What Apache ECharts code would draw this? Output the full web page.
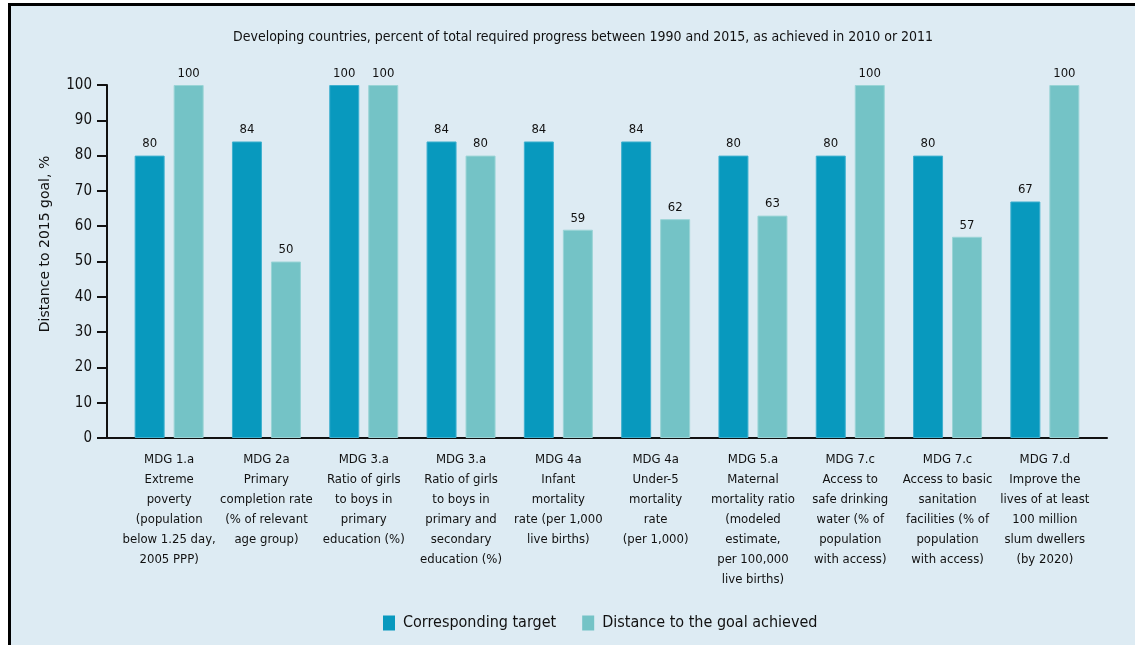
<!DOCTYPE html>
<html>
<head>
<meta charset="utf-8">
<script src="https://cdn.jsdelivr.net/npm/echarts@6/dist/echarts.min.js"></script>
<style>
  html, body { margin: 0; padding: 0; background: #fff; }
  #panel { position: absolute; left: 8px; top: 3px; width: 1124px; height: 660px;
    border-left: 3px solid #000; border-top: 3px solid #000; background: #ddebf3; }
  #main { position: absolute; left: 0; top: 0; width: 1139px; height: 645px; }
</style>
</head>
<body>
<div id="panel"></div>
<div id="main"></div>
<script>
// categories (MDG indicators)
const categories = [
  'MDG 1.a\nExtreme\npoverty\n(population\nbelow 1.25 day,\n2005 PPP)',
  'MDG 2a\nPrimary\ncompletion rate\n(% of relevant\nage group)',
  'MDG 3.a\nRatio of girls\nto boys in\nprimary\neducation (%)',
  'MDG 3.a\nRatio of girls\nto boys in\nprimary and\nsecondary\neducation (%)',
  'MDG 4a\nInfant\nmortality\nrate (per 1,000\nlive births)',
  'MDG 4a\nUnder-5\nmortality\nrate\n(per 1,000)',
  'MDG 5.a\nMaternal\nmortality ratio\n(modeled\nestimate,\nper 100,000\nlive births)',
  'MDG 7.c\nAccess to\nsafe drinking\nwater (% of\npopulation\nwith access)',
  'MDG 7.c\nAccess to basic\nsanitation\nfacilities (% of\npopulation\nwith access)',
  'MDG 7.d\nImprove the\nlives of at least\n100 million\nslum dwellers\n(by 2020)'
];
const seriesNames = ['Corresponding target', 'Distance to the goal achieved'];
const targetValues = [80, 84, 100, 84, 84, 84, 80, 80, 80, 67];
const achievedValues = [100, 50, 100, 80, 59, 62, 63, 100, 57, 100];
const yTicks = [0, 10, 20, 30, 40, 50, 60, 70, 80, 90, 100];

const FONT = '"DejaVu Sans Condensed", "Liberation Sans Narrow", sans-serif';
const colors = ['#0899be', '#74c3c6'];

const chart = echarts.init(document.getElementById('main'), null, { renderer: 'canvas' });

const labelStyle = {
  show: true,
  position: 'top',
  distance: 5,
  color: '#111',
  fontFamily: FONT,
  fontSize: 13
};

const option = {
  backgroundColor: 'transparent',
  color: colors,
  animation: false,
  title: {
    text: 'Developing countries, percent of total required progress between 1990 and 2015, as achieved in 2010 or 2011',
    left: 228,
    top: 25,
    textStyle: { fontFamily: FONT, fontSize: 14, fontWeight: 'normal', color: '#111' }
  },
  legend: {
    data: seriesNames,
    left: 378,
    top: 610,
    itemWidth: 12,
    itemHeight: 15,
    itemGap: 26,
    icon: 'rect',
    itemStyle: { borderWidth: 0 },
    textStyle: { fontFamily: FONT, fontSize: 16, color: '#111', padding: [0, 0, 0, 3] }
  },
  graphic: [{
    type: 'text',
    x: 45,
    y: 244,
    rotation: Math.PI / 2,
    style: {
      text: 'Distance to 2015 goal, %',
      fontFamily: '"DejaVu Sans", sans-serif',
      fontSize: 14,
      fill: '#111',
      align: 'center',
      verticalAlign: 'middle'
    }
  }],
  grid: [
    // axis frame
    { left: 107, top: 85, width: 1000, height: 353 },
    // bars
    { left: 120.5, top: 85, width: 973, height: 353 }
  ],
  xAxis: [
    {
      gridIndex: 0, type: 'value', min: 0, max: 1,
      axisLine: { show: true, lineStyle: { color: '#111', width: 2 } },
      axisTick: { show: false }, axisLabel: { show: false }, splitLine: { show: false }
    },
    {
      gridIndex: 1, type: 'category', data: categories,
      axisLine: { show: false }, axisTick: { show: false },
      axisLabel: {
        interval: 0, margin: 12, color: '#111',
        fontFamily: FONT, fontSize: 13, lineHeight: 20, align: 'center'
      }
    }
  ],
  yAxis: [
    {
      gridIndex: 0, type: 'value', min: 0, max: 100, interval: 10,
      axisLine: { show: true, lineStyle: { color: '#111', width: 2 } },
      axisTick: { show: true, length: 10, lineStyle: { color: '#111', width: 2 } },
      axisLabel: {
        margin: 15, color: '#111', fontFamily: FONT, fontSize: 15,
        customValues: yTicks
      },
      splitLine: { show: false }
    },
    {
      gridIndex: 1, type: 'value', min: 0, max: 100, show: false,
      splitLine: { show: false }
    }
  ],
  series: [
    {
      name: seriesNames[0], type: 'bar', xAxisIndex: 1, yAxisIndex: 1,
      data: targetValues, barWidth: 30, barGap: '30%',
      itemStyle: { color: colors[0], borderColor: '#3fb0cf', borderWidth: 1 },
      label: labelStyle
    },
    {
      name: seriesNames[1], type: 'bar', xAxisIndex: 1, yAxisIndex: 1,
      data: achievedValues, barWidth: 30,
      itemStyle: { color: colors[1], borderColor: '#9ad4d6', borderWidth: 1 },
      label: labelStyle
    }
  ]
};

chart.setOption(option);
</script>
</body>
</html>
